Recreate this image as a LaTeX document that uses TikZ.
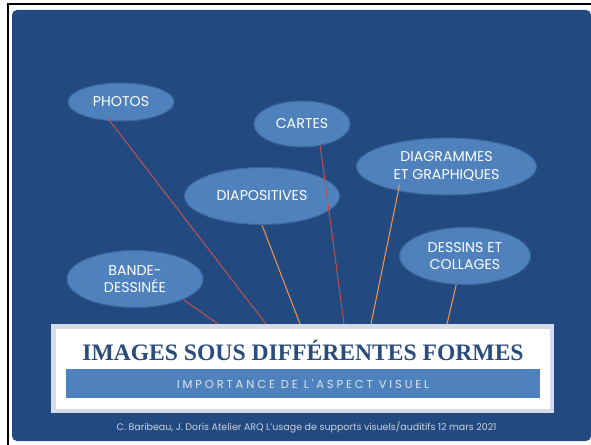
\documentclass[tikz,border=0pt]{standalone}
\usepackage{fontspec}
\setmainfont{Liberation Serif}
\newfontfamily\gothic{Poppins}
\newfontfamily\gothicwide[LetterSpace=25]{Poppins}
\usetikzlibrary{shapes.geometric}
\definecolor{fond}{HTML}{224A80}
\definecolor{bleubulle}{HTML}{4F81BD}
\definecolor{bordbulle}{HTML}{3C679E}
\definecolor{rouge}{HTML}{C0504D}
\definecolor{orange}{HTML}{F79646}
\definecolor{cadre}{HTML}{D5DCE7}
\definecolor{titrebleu}{HTML}{2C4C7C}
\definecolor{clair}{HTML}{DCE6F2}
\definecolor{pied}{HTML}{C9D2DF}

\begin{document}
\begin{tikzpicture}[x=1pt,y=-1pt,
	bulle/.style={ellipse, fill=bleubulle, draw=bordbulle, line width=1pt, inner sep=0pt,
		text=white, align=center, font=\gothic\fontsize{14.2}{17.5}\selectfont},
	lienR/.style={draw=rouge, line width=1pt},
	lienO/.style={draw=orange, line width=1pt}]
		%%%%% START %%%%%
		\useasboundingbox (0,0) rectangle (591,444);
		\clip (0,0) rectangle (591,444);
		\fill[white] (0,0) rectangle (591,444);
		\draw[line width=1.5pt] (591,4) -- (8,4) -- (8,445);
		\fill[fond, rounded corners=5pt] (12,10) rectangle (591,441);
		
		% bulles
		\node[bulle, minimum width=106, minimum height=38] (photos) at (121,102) {PHOTOS};
		\node[bulle, minimum width=96, minimum height=46] (cartes) at (302,124) {CARTES};
		\node[bulle, minimum width=155, minimum height=57] (diapos) at (262,196) {DIAPOSITIVES};
		\node[bulle, minimum width=180, minimum height=57] (diagrammes) at (446.5,166.5) {DIAGRAMMES\\ET GRAPHIQUES};
		\node[bulle, minimum width=131, minimum height=57] (dessins) at (465,256) {DESSINS ET\\COLLAGES};
		\node[bulle, minimum width=136, minimum height=57] (bande) at (135,279) {BANDE-\\DESSINÉE};
		
		% titre
		\node[draw=cadre, line width=4.5pt, fill=white, minimum width=498.5, minimum height=84.5, inner sep=0pt] (titre) at (302.5,368.5) {};
		\node[text=titrebleu, font=\bfseries\fontsize{23.6}{24}\selectfont, inner sep=0pt] (titretxt) at (303,350.5) {IMAGES SOUS DIFFÉRENTES FORMES};
		\node[fill=bleubulle, minimum width=474, minimum height=29, inner sep=0pt, text=clair,
			font=\gothicwide\fontsize{11.5}{11.5}\selectfont] (soustitre) at (303,383.5) {IMPORTANCE DE L'ASPECT VISUEL};
		\node[text=pied, font=\gothic\fontsize{9.5}{9.5}\selectfont, inner sep=0pt] (credit) at (306.5,427) {C. Baribeau, J. Doris Atelier ARQ L’usage de supports visuels/auditifs 12 mars 2021};
		
		% liens
		\coordinate (bB) at (218,324);
		\coordinate (bP) at (266,324);
		\coordinate (bD) at (300,324);
		\coordinate (bC) at (344,324);
		\coordinate (bG) at (371,324);
		\coordinate (bS) at (447,324);
		\draw[lienR] (bande.-23) -- (bB);
		\draw[lienR, shorten <=-3.5pt] (photos.240) -- (bP);
		\draw[lienO] (diapos.south) -- (bD);
		\draw[lienR] (cartes.-50) -- (bC);
		\draw[lienO, shorten <=-6.3pt] (diagrammes.207) -- (bG);
		\draw[lienO] (dessins.253) -- (bS);
		%%%%% END %%%%%
\end{tikzpicture}
\end{document}
